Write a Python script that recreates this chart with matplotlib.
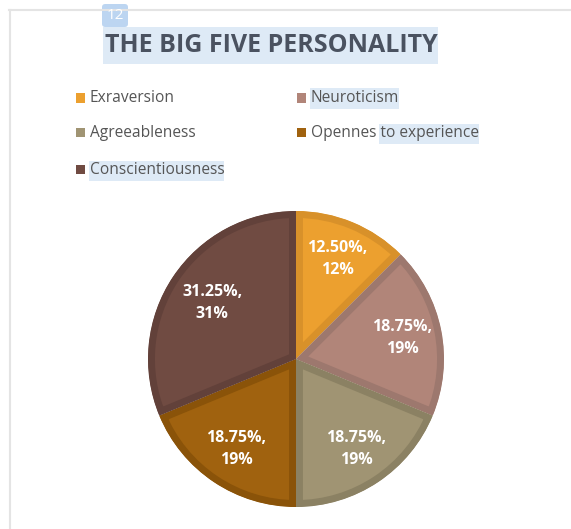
import matplotlib
matplotlib.use("Agg")
import matplotlib.pyplot as plt
import numpy as np
from matplotlib.patches import Rectangle, FancyBboxPatch

# data
traits = ["Exraversion", "Neuroticism", "Agreeableness", "Opennes to experience", "Conscientiousness"]
shares = [12.5, 18.75, 18.75, 18.75, 31.25]
fills = ["#ECA02F", "#B18579", "#A09473", "#A0620F", "#704B42"]
bands = ["#D8912A", "#9D786E", "#8B8163", "#8A5309", "#62413A"]

W, H = 571, 529
plt.rcParams["font.family"] = ["Open Sans", "DejaVu Sans"]

fig = plt.figure(figsize=(W / 100, H / 100), dpi=100)
fig.patch.set_facecolor("white")


def fx(x):
    return x / W


def fy(y):
    return 1 - y / H


def hl(x0, y0, x1, y1, color="#DEEAF6"):
    fig.patches.append(Rectangle((fx(x0), fy(y1)), fx(x1 - x0), (y1 - y0) / H,
                                 transform=fig.transFigure, color=color, lw=0, zorder=0))


# frame lines
fig.add_artist(plt.Line2D([fx(9), 1], [fy(10), fy(10)], color="#E4E4E4", lw=1.5))
fig.add_artist(plt.Line2D([fx(10), fx(10)], [fy(10), 0], color="#E4E4E4", lw=1.5))

# badge
fig.patches.append(FancyBboxPatch((fx(102), fy(27)), fx(26), 23 / H,
                                  boxstyle="round,pad=0,rounding_size=0.006",
                                  transform=fig.transFigure, color="#BCD5F1", lw=0))
fig.text(fx(115), fy(15.5), "12", color="white", fontsize=11, ha="center", va="center")

# title
hl(103, 27, 438, 64)
fig.text(fx(271), fy(46), "THE BIG FIVE PERSONALITY", fontsize=18, fontweight="bold",
         color="#4A5260", ha="center", va="center")

# legend
hl(310, 88, 399, 109)
hl(379, 124, 479, 144)
hl(89, 161, 224, 181)
leg_pos = [(80, 98), (301, 98), (80, 133), (301, 133), (80, 170)]
for (x, y), name, c in zip(leg_pos, traits, fills):
    fig.patches.append(Rectangle((fx(x - 4.5), fy(y + 4.5)), fx(9), 9 / H,
                                 transform=fig.transFigure, color=c, lw=0))
    fig.text(fx(x + 10), fy(y), name, fontsize=11.2, color="#555555", ha="left", va="center")

# pie
cx, cy, r = 296, 359, 148
ax = fig.add_axes([fx(cx - r), fy(cy + r), fx(2 * r), 2 * r / H])
wedges, _ = ax.pie(shares, colors=fills, startangle=90, counterclock=False,
                   radius=1, wedgeprops=dict(linewidth=0))
for w, b in zip(wedges, bands):
    w.set_edgecolor(b)
    w.set_linewidth(10)
    w.set_clip_on(True)
    w.set_clip_path(w)
ax.set_xlim(-1, 1)
ax.set_ylim(-1, 1)
ax.set_aspect("equal")
ax.axis("off")

start = 90.0
for s in shares:
    mid = np.deg2rad(start - s / 100 * 180)
    start -= s / 100 * 360
    d = 0.73 if s < 30 else 0.68
    ax.text(d * np.cos(mid), d * np.sin(mid), f"{s:.2f}%,\n{s:.0f}%",
            ha="center", va="center", color="white", fontsize=11.5, fontweight="bold",
            linespacing=1.55)

fig.savefig("out.png", dpi=100)
